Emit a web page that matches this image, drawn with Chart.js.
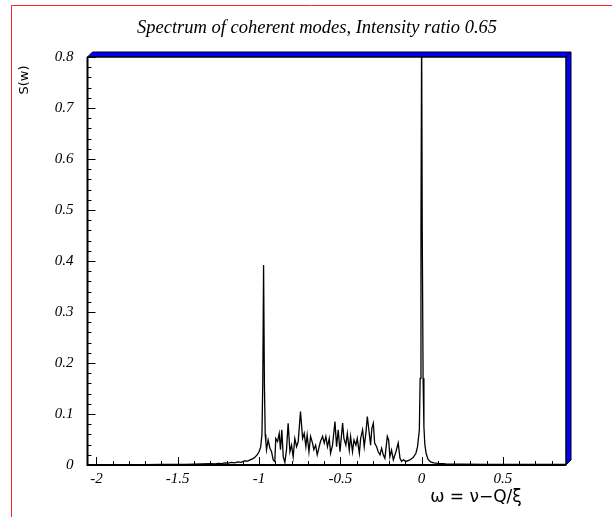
<!DOCTYPE html>
<html><head><meta charset="utf-8">
<script src="https://cdn.jsdelivr.net/npm/chart.js@4/dist/chart.umd.min.js"></script>
<style>html,body{margin:0;padding:0;background:#fff;}#wrap{width:612px;height:517px;position:relative;}</style>
</head><body><div id="wrap"><canvas id="c" width="612" height="517"></canvas></div>
<script>
const omega = [
 -2.05,-1.9,-1.8,-1.7,-1.6,-1.5,-1.45,-1.4,-1.35,-1.3,-1.27,-1.25,-1.23,-1.21,-1.19,-1.17,-1.15,-1.13,-1.11,-1.09,-1.07,-1.055,-1.04,-1.025,-1.01,-1.0,-0.99,-0.982,-0.977,-0.972,-0.967,-0.962,-0.958,
 -0.954,-0.944,-0.933,-0.923,-0.913,-0.903,-0.897,-0.886,-0.876,-0.868,-0.860,-0.851,-0.841,-0.831,-0.821,-0.810,-0.800,-0.790,-0.780,-0.769,-0.759,-0.745,-0.732,-0.722,-0.712,-0.704,-0.693,-0.683,-0.671,-0.663,-0.652,-0.642,-0.630,-0.622,-0.609,-0.599,-0.589,-0.579,-0.568,-0.560,-0.548,
 -0.533,-0.523,-0.513,-0.502,-0.486,-0.478,-0.466,-0.457,-0.445,-0.437,-0.425,-0.416,-0.404,-0.396,-0.383,-0.375,-0.363,-0.353,-0.342,-0.334,-0.322,-0.314,-0.306,-0.297,-0.289,-0.277,-0.267,-0.256,-0.246,-0.236,-0.226,-0.211,-0.203,-0.195,-0.185,-0.174,-0.158,-0.144,-0.133,-0.123,-0.113,-0.096,-0.072,-0.051,-0.035,-0.025,-0.014,-0.009,-0.004,
 0.000,0.004,0.009,0.014,0.020,0.028,0.040,0.055,0.075,0.10,0.15,0.25,0.4,0.6,0.89
];
const spectrum = [
 0.0005,0.0006,0.0007,0.0008,0.001,0.0012,0.0014,0.0016,0.002,0.0025,0.0022,0.003,0.0028,0.004,0.0035,0.005,0.0042,0.006,0.005,0.008,0.0075,0.010,0.012,0.015,0.021,0.026,0.035,0.06,0.16,0.392,0.16,0.06,0.045,
 0.030,0.049,0.033,0.026,0.010,0.007,0.052,0.046,0.062,0.030,0.069,0.016,0.005,0.030,0.082,0.026,0.039,0.016,0.052,0.036,0.046,0.105,0.052,0.062,0.036,0.059,0.026,0.056,0.043,0.030,0.039,0.020,0.036,0.046,0.056,0.043,0.056,0.036,0.052,0.023,0.039,
 0.085,0.036,0.069,0.026,0.082,0.052,0.039,0.062,0.029,0.056,0.026,0.049,0.039,0.052,0.023,0.052,0.069,0.036,0.065,0.095,0.062,0.039,0.072,0.082,0.043,0.036,0.026,0.020,0.033,0.020,0.013,0.056,0.049,0.016,0.029,0.010,0.026,0.043,0.013,0.007,0.010,0.007,0.010,0.015,0.023,0.036,0.069,0.17,0.45,
 0.85,0.45,0.17,0.075,0.04,0.022,0.011,0.006,0.004,0.003,0.002,0.0015,0.001,0.001,0.001
];
const xTickValues = [-2, -1.5, -1, -0.5, 0, 0.5];
const yTickValues = [0, 0.1, 0.2, 0.3, 0.4, 0.5, 0.6, 0.7, 0.8];
const xRange = [-2.055, 0.888];
const yRange = [0, 0.8];
const xMinorStep = 0.1;
const yMinorStep = 0.02;
const chartTitle = 'Spectrum of coherent modes, Intensity ratio 0.65';
const yAxisTitle = 'S(w)';
const xAxisTitle = 'ω = ν−Q/ξ';

const points = omega.map((w, i) => ({x: w, y: spectrum[i]}));
const tickFont = {family: 'Liberation Serif', style: 'italic', size: 15};

const decor = {
  id: 'decor',
  afterDraw(chart) {
    const ctx = chart.ctx;
    const a = chart.chartArea;
    const xs = chart.scales.x, ys = chart.scales.y;
    ctx.save();
    ctx.strokeStyle = '#ff2020'; ctx.lineWidth = 1;
    ctx.beginPath(); ctx.moveTo(11.5, 517); ctx.lineTo(11.5, 5.5); ctx.lineTo(612, 5.5); ctx.stroke();
    const d = 5;
    ctx.fillStyle = '#0000ff'; ctx.strokeStyle = '#000'; ctx.lineWidth = 1;
    ctx.beginPath();
    ctx.moveTo(a.left, a.top); ctx.lineTo(a.left + d, a.top - d); ctx.lineTo(a.right + d, a.top - d); ctx.lineTo(a.right, a.top); ctx.closePath();
    ctx.fill(); ctx.stroke();
    ctx.beginPath();
    ctx.moveTo(a.right, a.top); ctx.lineTo(a.right + d, a.top - d); ctx.lineTo(a.right + d, a.bottom - d); ctx.lineTo(a.right, a.bottom); ctx.closePath();
    ctx.fill(); ctx.stroke();
    ctx.strokeStyle = '#000'; ctx.lineWidth = 1;
    ctx.strokeRect(a.left, a.top, a.right - a.left, a.bottom - a.top);
    ctx.lineWidth = 2;
    ctx.beginPath(); ctx.moveTo(a.left, a.top); ctx.lineTo(a.left, a.bottom); ctx.lineTo(a.right, a.bottom); ctx.stroke();
    ctx.lineWidth = 1;
    ctx.beginPath();
    for (let k = Math.ceil(yRange[0] / yMinorStep); k * yMinorStep <= yRange[1] + 1e-9; k++) {
      const v = k * yMinorStep;
      const major = k % 5 === 0;
      const py = Math.round(ys.getPixelForValue(v)) + 0.5;
      ctx.moveTo(a.left, py); ctx.lineTo(a.left + (major ? 8 : 4), py);
    }
    for (let k = Math.ceil(xRange[0] / xMinorStep - 1e-9); k * xMinorStep <= xRange[1] + 1e-9; k++) {
      const v = k * xMinorStep;
      const major = k % 5 === 0;
      const px = Math.round(xs.getPixelForValue(v)) + 0.5;
      ctx.moveTo(px, a.bottom); ctx.lineTo(px, a.bottom - (major ? 8 : 4));
    }
    ctx.stroke();
    ctx.fillStyle = '#000';
    ctx.font = 'italic 18.5px "Liberation Serif"';
    ctx.textAlign = 'center'; ctx.textBaseline = 'alphabetic';
    ctx.fillText(chartTitle, 317, 33);
    ctx.font = '17px "DejaVu Sans"';
    ctx.fillText(xAxisTitle, 476, 502);
    ctx.save();
    ctx.translate(28, 80); ctx.rotate(-Math.PI / 2);
    ctx.font = '13px "DejaVu Sans"';
    ctx.fillText(yAxisTitle, 0, 0);
    ctx.restore();
    ctx.restore();
  }
};

new Chart(document.getElementById('c'), {
  type: 'line',
  data: {datasets: [{data: points, borderColor: '#000', borderWidth: 1.3, pointRadius: 0, tension: 0, fill: false}]},
  options: {
    responsive: false, animation: false, devicePixelRatio: 1,
    layout: {padding: {left: 12.5, right: 46, top: 57, bottom: 0}},
    plugins: {legend: {display: false}, tooltip: {enabled: false}, title: {display: false}},
    scales: {
      x: {
        type: 'linear', min: xRange[0], max: xRange[1],
        afterBuildTicks: s => { s.ticks = xTickValues.map(v => ({value: v})); },
        afterFit: s => { s.height = 52; },
        grid: {display: false, drawTicks: false}, border: {display: false},
        ticks: {font: tickFont, color: '#000', padding: 5, maxRotation: 0, autoSkip: false,
          callback: v => String(v)}
      },
      y: {
        type: 'linear', min: yRange[0], max: yRange[1],
        afterBuildTicks: s => { s.ticks = yTickValues.map(v => ({value: v})); },
        afterFit: s => { s.width = 75; },
        grid: {display: false, drawTicks: false}, border: {display: false},
        ticks: {font: tickFont, color: '#000', padding: 14, autoSkip: false,
          callback: v => String(Math.round(v * 10) / 10)}
      }
    }
  },
  plugins: [decor]
});
</script></body></html>
